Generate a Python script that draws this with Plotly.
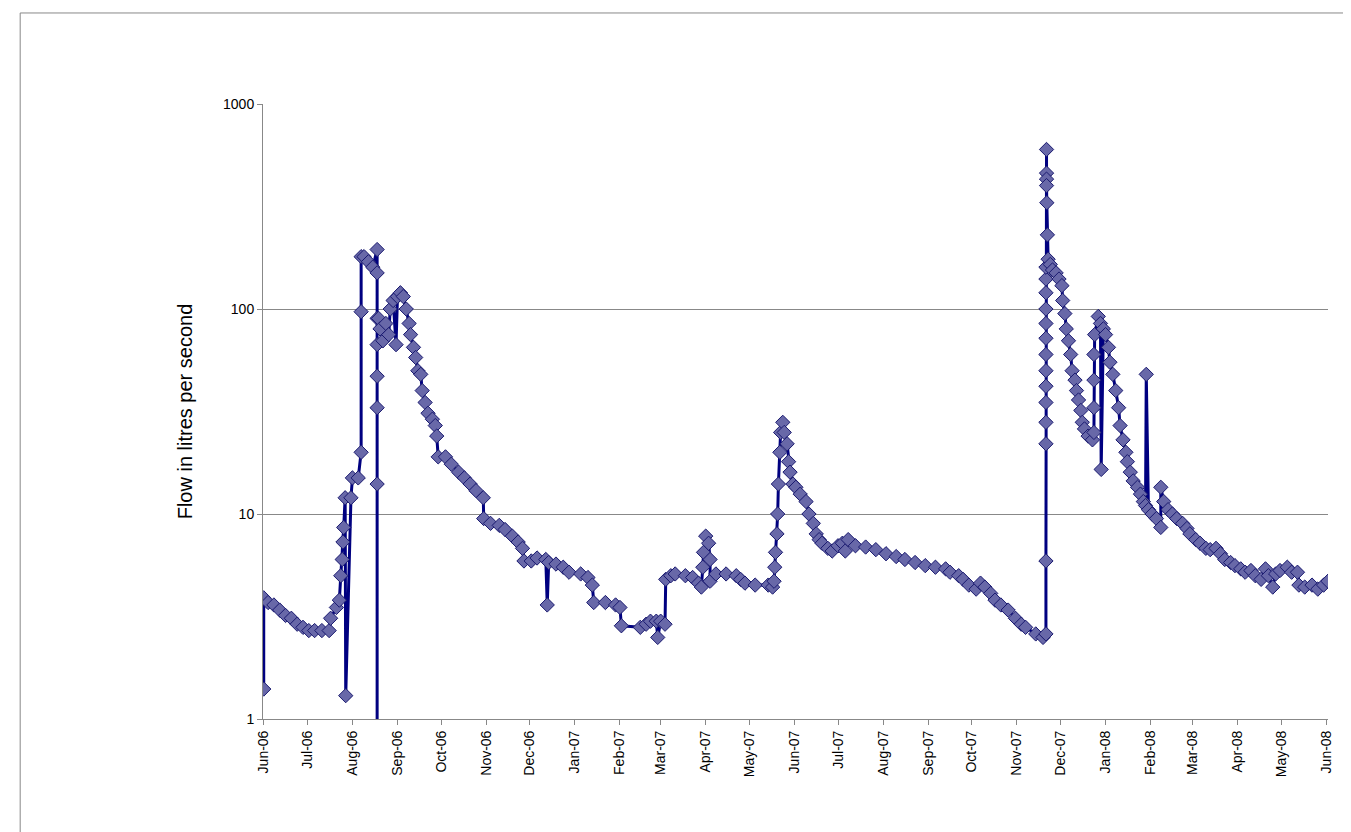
import pandas as pd
import plotly.graph_objects as go

# days since 1 Jun 2006 and flow (l/s)
days = [0, 0, 3, 7, 11, 15, 19, 23, 27, 31, 35, 40, 45,
        46, 50, 52, 53, 54, 54.5, 55, 56, 56.4, 60, 61, 65,
        67, 67, 67, 69, 72, 75, 78, 78, 78, 78, 78, 78, 78, 78,
        79, 80, 82, 84, 86, 87, 89, 91, 92, 94, 96, 98, 100, 101, 103, 104.5,
        106, 108, 109, 111, 113, 116, 118, 119, 120, 125, 129, 134, 138, 142,
        146, 151, 151.3, 156, 162, 166, 171, 175, 178, 179, 184, 188, 194, 195,
        196, 201, 206, 210, 218, 223, 226, 227, 235, 242, 245, 246, 259, 263,
        266, 270, 271, 273, 276, 276.5, 280, 283, 290, 295, 299, 301, 302,
        302.5, 304, 306, 307, 307, 311, 318, 325, 328, 331, 338, 347, 350, 351,
        351.5, 352, 353, 353.5, 354, 355, 355.5, 357, 358, 360, 361, 362, 364,
        366, 369, 373, 375, 378, 380, 382, 384, 388, 391, 395, 398, 400, 402,
        407, 414, 421, 428, 435, 441, 448, 455, 462, 469, 472, 478, 481, 485,
        490, 493, 496, 500, 503, 507, 512, 517, 521, 524, 531, 536,
        538, 538, 538, 538, 538, 538, 538, 538, 538, 538, 538, 538, 538, 538,
        538.4, 538.4, 538.4, 538.4, 538.6, 539, 539.5,
        541, 542.5, 545, 547, 549, 549.5, 551, 552, 553.5, 555, 556, 558, 559,
        560.4, 562, 563, 564.5, 567, 570, 571, 571, 571, 571, 571.5, 574, 575.5,
        576, 577.5, 579, 581, 582, 584, 586, 588, 589, 591, 593, 594, 596, 598,
        601, 603, 605, 606.5, 607, 608.5, 611, 614, 617, 617, 619, 622, 625,
        628, 632, 635, 637, 641, 644, 648, 651, 655, 658, 661, 665, 668, 672,
        675, 679, 682, 686, 689, 691, 694, 696, 699, 704, 707, 711, 712, 716,
        721, 725, 729, 732]
flow = [1.4, 3.9, 3.7, 3.6, 3.4, 3.2, 3.1, 2.9, 2.8, 2.7, 2.7, 2.7, 2.7,
        3.1, 3.5, 3.8, 5.0, 6.0, 7.3, 8.6, 12, 1.3, 12, 15, 15,
        20, 97, 180, 180, 170, 160, 195, 150, 0.5, 14, 33, 47, 67, 90,
        90, 80, 70, 85, 75, 100, 110, 67, 115, 120, 115, 100, 85, 75, 65, 58,
        50, 48, 40, 35, 31, 29, 27, 24, 19, 19, 17.5, 16, 15, 14,
        13, 12, 9.5, 9.0, 8.8, 8.4, 7.8, 7.3, 6.8, 5.9, 5.9, 6.1, 6.0, 3.6,
        5.8, 5.7, 5.5, 5.2, 5.1, 4.9, 4.5, 3.7, 3.7, 3.6, 3.5, 2.85, 2.8, 2.9,
        3.0, 3.0, 2.5, 3.0, 2.9, 4.8, 5.0, 5.1, 5.0, 4.9, 4.6, 4.4, 5.5,
        6.5, 7.8, 7.2, 6.0, 4.7, 5.1, 5.1, 5.0, 4.8, 4.6, 4.5, 4.5, 4.4, 4.7,
        5.5, 6.5, 8.0, 10, 14, 20, 25, 28, 25, 22, 18, 16, 14,
        13.5, 12.5, 11.5, 10, 9.0, 8.0, 7.5, 7.2, 6.8, 6.6, 7.0, 7.2, 6.6, 7.5,
        7.0, 6.9, 6.7, 6.4, 6.2, 6.0, 5.8, 5.6, 5.5, 5.4, 5.2, 5.0, 4.8, 4.5,
        4.3, 4.6, 4.4, 4.1, 3.8, 3.6, 3.4, 3.1, 2.9, 2.8, 2.6, 2.5,
        2.6, 5.9, 22, 28, 35, 42, 50, 60, 72, 85, 100, 120, 140, 160,
        600, 460, 430, 400, 330, 230, 175,
        165, 155, 150, 140, 130, 110, 95, 80, 70, 60, 50, 45, 40,
        36, 32, 28, 26, 24, 23, 25, 33, 45, 60, 75, 92, 85,
        16.5, 80, 75, 65, 55, 48, 40, 33, 27, 23, 20, 18, 16, 14.5,
        13.5, 12.5, 11.5, 11, 48, 10.5, 10, 9.5, 8.6, 13.5, 11.5, 10.5, 10,
        9.5, 9.0, 8.5, 8.0, 7.5, 7.2, 6.8, 6.7, 6.8, 6.4, 6.0, 5.8, 5.6, 5.4,
        5.2, 5.3, 5.0, 4.8, 5.4, 5.0, 4.4, 5.1, 5.3, 5.5, 5.2, 5.2, 4.5, 4.4,
        4.5, 4.3, 4.5, 4.7]

dates = pd.Timestamp("2006-06-01") + pd.to_timedelta(days, unit="D")
ticks = pd.date_range("2006-06-01", "2008-06-01", freq="MS")

fig = go.Figure(go.Scatter(
    x=dates, y=flow, mode="lines+markers",
    line=dict(color="#000080", width=3),
    marker=dict(symbol="diamond", size=11, color="#6868A8",
                line=dict(color="#1a1a70", width=1)),
))

fig.update_layout(
    width=1343, height=824, showlegend=False,
    paper_bgcolor="white", plot_bgcolor="white",
    margin=dict(l=255, r=23, t=96, b=113),
    font=dict(family="Liberation Sans, Arial", color="black", size=14),
    shapes=[dict(type="rect", xref="paper", yref="paper",
                 x0=-0.228, x1=1.1, y0=-0.3, y1=1.148,
                 line=dict(color="#888", width=1))],
)
fig.update_xaxes(
    range=[ticks[0] - pd.Timedelta(hours=12), ticks[-1] + pd.Timedelta(days=1)],
    tickvals=ticks, tickformat="%b-%y", tickangle=-90,
    showgrid=False, showline=True, linecolor="#888", ticks="outside",
    ticklen=5, tickcolor="#888", tickfont=dict(size=14),
)
fig.update_yaxes(
    type="log", range=[0, 3], tickvals=[1, 10, 100, 1000],
    ticktext=["1", "10", "100", "1000"],
    showgrid=True, gridcolor="#888", showline=True, linecolor="#888",
    ticks="outside", ticklen=5, tickcolor="#888", tickfont=dict(size=14),
    title=dict(text="Flow in litres per second", font=dict(size=20), standoff=25),
)

fig.write_html("out.html")
